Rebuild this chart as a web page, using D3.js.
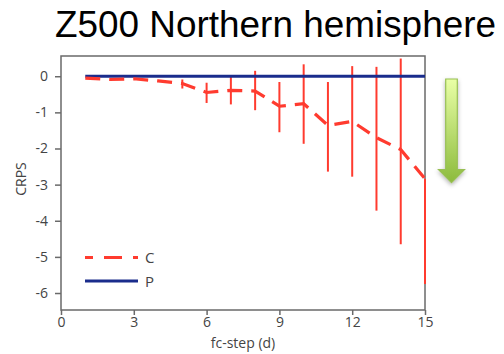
<!DOCTYPE html>
<html>
<head>
<meta charset="utf-8">
<script src="https://cdn.jsdelivr.net/npm/d3@7"></script>
<style>
  body { margin: 0; background: #fff; }
  svg { display: block; }
  .tick text { font-family: "Open Sans", sans-serif; font-size: 14px; fill: #444; }
  .axis-title { font-family: "Open Sans", sans-serif; font-size: 14px; fill: #444; }
</style>
</head>
<body>
<svg id="chart" width="504" height="354"></svg>
<script>
// fc-step (days) and CRPS values
const steps   = [1, 2, 3, 4, 5, 6, 7, 8, 9, 10, 11, 12, 13, 14, 15];
const crpsC   = [-0.05, -0.09, -0.07, -0.13, -0.2, -0.45, -0.39, -0.41, -0.83, -0.76, -1.36, -1.25, -1.7, -2.03, -2.84];
const errLowC = [null, null, null, null, -0.34, -0.74, -0.78, -0.94, -1.55, -1.87, -2.64, -2.78, -3.72, -4.65, -5.75];
const errHiC  = [null, null, null, null, -0.09, -0.18, -0.02, 0.15, -0.16, 0.33, -0.16, 0.28, 0.26, 0.49, -2.84];
const crpsP   = [0, 0, 0, 0, 0, 0, 0, 0, 0, 0, 0, 0, 0, 0, 0];
const xTicks  = [0, 3, 6, 9, 12, 15];
const yTicks  = [0, -1, -2, -3, -4, -5, -6];
const legendItems = [
  { name: 'C', color: '#ff3b2f', dash: '18,11', offset: 10 },
  { name: 'P', color: '#1a2c8c', dash: null, offset: 0 }
];

const svg = d3.select('#chart');
const margin = { top: 56, right: 79, bottom: 44, left: 61 };
const width = 504 - margin.left - margin.right;
const height = 354 - margin.top - margin.bottom;

const chart = svg.append('g')
    .attr('transform', `translate(${margin.left},${margin.top})`);

const xScale = d3.scaleLinear().domain([0, 15]).range([0, width]);
const yScale = d3.scaleLinear().domain([-6.47, 0.56]).range([height, 0]);

// Title
svg.append('text')
    .attr('x', 55)
    .attr('y', 37)
    .attr('textLength', 441)
    .attr('lengthAdjust', 'spacingAndGlyphs')
    .style('font-family', 'Arial, "Liberation Sans", sans-serif')
    .style('font-size', '37px')
    .style('fill', '#000')
    .text('Z500 Northern hemisphere');

// Frame (drawn under the marks)
chart.append('rect')
    .attr('width', width)
    .attr('height', height)
    .attr('fill', 'none')
    .attr('stroke', '#6a6a6a')
    .attr('stroke-width', 1.5);

// Error bars
const errData = steps.map((s, i) => ({ s, lo: errLowC[i], hi: errHiC[i] })).filter(d => d.lo != null);
chart.selectAll('.err')
    .data(errData)
  .join('line')
    .attr('class', 'err')
    .attr('x1', d => xScale(d.s))
    .attr('x2', d => xScale(d.s))
    .attr('y1', d => yScale(d.hi))
    .attr('y2', d => yScale(d.lo))
    .attr('stroke', '#ff3b2f')
    .attr('stroke-width', 2);

const line = d3.line().x(d => xScale(d[0])).y(d => yScale(d[1]));

// P line
chart.append('path')
    .datum(steps.map((s, i) => [s, crpsP[i]]))
    .attr('d', line)
    .attr('fill', 'none')
    .attr('stroke', '#1a2c8c')
    .attr('stroke-width', 3);

// C line (dashed)
chart.append('path')
    .datum(steps.map((s, i) => [s, crpsC[i]]))
    .attr('d', line)
    .attr('fill', 'none')
    .attr('stroke', '#ff3b2f')
    .attr('stroke-width', 3.2)
    .attr('stroke-dasharray', '15,9');

// Axes
chart.append('g')
    .attr('transform', `translate(0,${height})`)
    .call(d3.axisBottom(xScale).tickValues(xTicks).tickFormat(d3.format('d')).tickSize(5).tickPadding(2))
    .call(g => g.select('.domain').remove());

chart.append('g')
    .call(d3.axisLeft(yScale).tickValues(yTicks).tickFormat(d => d3.format('d')(d).replace('\u2212', '-')).tickSize(6).tickPadding(7))
    .call(g => g.select('.domain').remove());

chart.selectAll('.tick line').attr('stroke', '#6a6a6a').attr('stroke-width', 1.5);

chart.append('text')
    .attr('class', 'axis-title')
    .attr('x', width / 2)
    .attr('y', height + 38)
    .style('text-anchor', 'middle')
    .text('fc-step (d)');

chart.append('text')
    .attr('class', 'axis-title')
    .attr('transform', 'rotate(-90)')
    .attr('x', -(179 - margin.top))
    .attr('y', -margin.left + 26)
    .style('text-anchor', 'middle')
    .text('CRPS');

// Legend
const legend = chart.append('g').attr('transform', 'translate(24,201.5)');
legendItems.forEach((d, i) => {
  const g = legend.append('g').attr('transform', `translate(0,${i * 23.5})`);
  g.append('line')
    .attr('x1', 0).attr('x2', 53)
    .attr('stroke', d.color)
    .attr('stroke-width', 3)
    .attr('stroke-dasharray', d.dash)
    .attr('stroke-dashoffset', d.offset);
  g.append('text')
    .attr('x', 60).attr('y', 5.5)
    .style('font-family', '"Open Sans", sans-serif')
    .style('font-size', '15px')
    .style('fill', '#444')
    .text(d.name);
});

// Green arrow with gradient
const defs = svg.append('defs');
const grad = defs.append('linearGradient')
    .attr('id', 'arrowGrad').attr('x1', 0).attr('y1', 0).attr('x2', 0).attr('y2', 1);
grad.append('stop').attr('offset', '0%').attr('stop-color', '#e9ffa6');
grad.append('stop').attr('offset', '100%').attr('stop-color', '#8cbb3c');
const shadow = defs.append('filter').attr('id', 'shadow').attr('x', '-50%').attr('y', '-20%').attr('width', '200%').attr('height', '140%');
shadow.append('feDropShadow').attr('dx', 0).attr('dy', 2).attr('stdDeviation', 2).attr('flood-color', '#000').attr('flood-opacity', 0.3);

const ax = 451.5, aTop = 79, headY = 169.5, tipY = 182.7, shaftHalf = 5.8, headHalf = 13;
svg.append('path')
    .attr('d', `M${ax - shaftHalf},${aTop} L${ax + shaftHalf},${aTop} L${ax + shaftHalf},${headY} L${ax + headHalf},${headY} L${ax},${tipY} L${ax - headHalf},${headY} L${ax - shaftHalf},${headY} Z`)
    .attr('fill', 'url(#arrowGrad)')
    .attr('stroke', '#98bf55')
    .attr('stroke-width', 1.2)
    .attr('filter', 'url(#shadow)');
</script>
</body>
</html>
